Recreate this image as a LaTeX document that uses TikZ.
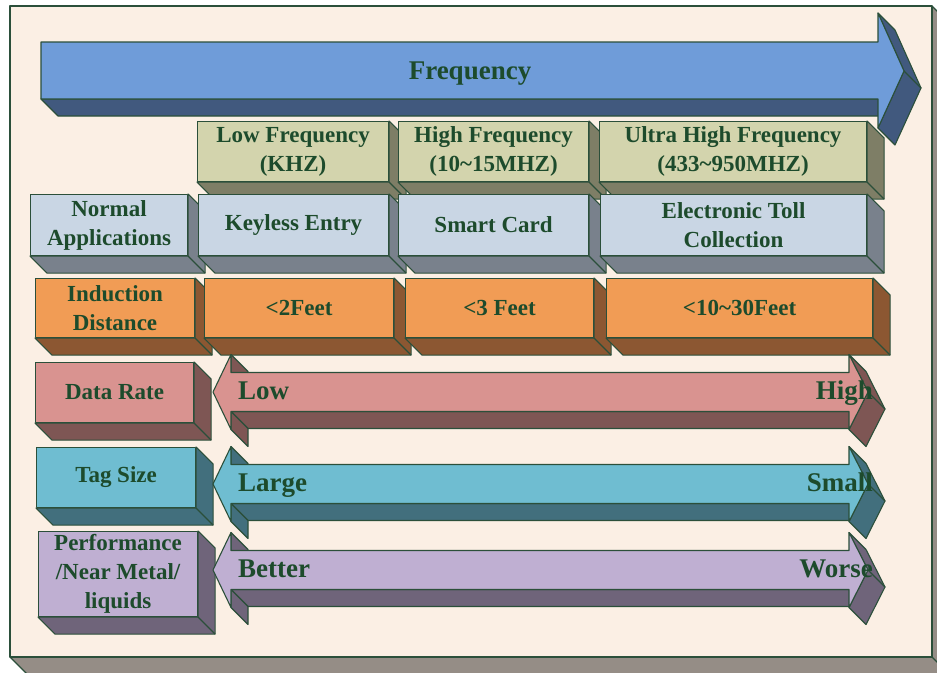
\documentclass[tikz,border=0pt]{standalone}
\usepackage{fontspec}
\setmainfont{Liberation Serif}
\usepackage{xcolor}

\definecolor{ink}{HTML}{1D4B2C}
\definecolor{rim}{HTML}{2B4F3A}
\definecolor{framebg}{HTML}{FBEFE4}
\definecolor{framedk}{HTML}{958D86}
\definecolor{freqf}{HTML}{6F9CD9}
\definecolor{freqd}{HTML}{41597E}
\definecolor{khakif}{HTML}{D3D4AD}
\definecolor{khakid}{HTML}{7E7E66}
\definecolor{greyf}{HTML}{C9D6E4}
\definecolor{greyd}{HTML}{79818C}
\definecolor{orangef}{HTML}{F19C55}
\definecolor{oranged}{HTML}{8C5732}
\definecolor{rosef}{HTML}{D99390}
\definecolor{rosed}{HTML}{7E5654}
\definecolor{tealf}{HTML}{6FBDD1}
\definecolor{teald}{HTML}{426F7D}
\definecolor{lilacf}{HTML}{BFAFD2}
\definecolor{lilacd}{HTML}{6F647A}

% bottom and right faces of a box node
\newcommand{\sidefaces}[2]{%
  \filldraw[edge, fill=#2] (#1.north east) -- ++(17,17) -- ([shift={(17,17)}]#1.south east)
    -- ([shift={(17,17)}]#1.south west) -- (#1.south west) -- (#1.south east) -- cycle;
  \draw[edge] (#1.south east) -- ++(17,17);
}

\begin{document}
\begin{tikzpicture}[x=1pt,y=-1pt,
  edge/.style={draw=rim, line width=1.1pt, line join=round},
  face/.style={edge, rectangle, anchor=north west, inner sep=0pt, align=center,
    text=ink, font=\fontsize{23}{29}\selectfont\bfseries},
  tag/.style={text=ink, inner sep=0pt, font=\fontsize{27}{30}\selectfont\bfseries}]

\useasboundingbox (0,0) rectangle (937,672);
\clip (0,0) rectangle (937,672);

% frame
\filldraw[edge, fill=framedk] (932,6) -- (949,23) -- (949,674) -- (27,674) -- (10,657) -- (932,657) -- cycle;
\draw[edge] (932,657) -- (949,674);
\filldraw[edge, fill=framebg] (10,6) rectangle (932,657);

% frequency arrow
\filldraw[edge, fill=freqd] (41,99) -- (878,99) -- (895,116) -- (58,116) -- cycle;
\filldraw[edge, fill=freqd] (878,13) -- (895,30) -- (921,88) -- (895,145) -- (878,128) -- (904,71) -- cycle;
\draw[edge] (904,71) -- (921,88);
\filldraw[edge, fill=freqf] (41,42) -- (878,42) -- (878,13) -- (904,71) -- (878,128) -- (878,99) -- (41,99) -- cycle;
\node[tag, anchor=base] (freq) at (470,79) {Frequency};

% bands
\node[face, fill=khakif, minimum width=191, minimum height=60] (lowf) at (197,121) {Low Frequency\\(KHZ)};
\sidefaces{lowf}{khakid}
\node[face, fill=khakif, minimum width=190, minimum height=60] (highf) at (398,121) {High Frequency\\(10\textasciitilde15MHZ)};
\sidefaces{highf}{khakid}
\node[face, fill=khakif, minimum width=267, minimum height=60] (uhf) at (599,121) {Ultra High Frequency\\(433\textasciitilde950MHZ)};
\sidefaces{uhf}{khakid}

% applications
\node[face, fill=greyf, minimum width=157, minimum height=61] (apps) at (30,194) {Normal\\Applications};
\sidefaces{apps}{greyd}
\node[face, fill=greyf, minimum width=190, minimum height=61] (keyless) at (198,194) {Keyless Entry};
\sidefaces{keyless}{greyd}
\node[face, fill=greyf, minimum width=190, minimum height=61] (card) at (398,194) {Smart Card};
\sidefaces{card}{greyd}
\node[face, fill=greyf, minimum width=266, minimum height=61] (toll) at (600,194) {Electronic Toll\\Collection};
\sidefaces{toll}{greyd}

% distance
\node[face, fill=orangef, minimum width=159, minimum height=59] (dist) at (35,278) {Induction\\Distance};
\sidefaces{dist}{oranged}
\node[face, fill=orangef, minimum width=189, minimum height=59] (feetlf) at (204,278) {<2Feet};
\sidefaces{feetlf}{oranged}
\node[face, fill=orangef, minimum width=188, minimum height=59] (feethf) at (405,278) {<3 Feet};
\sidefaces{feethf}{oranged}
\node[face, fill=orangef, minimum width=266, minimum height=59] (feetuhf) at (606,278) {<10\textasciitilde30Feet};
\sidefaces{feetuhf}{oranged}

% left column
\node[face, fill=rosef, minimum width=158, minimum height=60] (rate) at (35,362) {Data Rate};
\sidefaces{rate}{rosed}
\node[face, fill=tealf, minimum width=159, minimum height=60] (size) at (36,447) {Tag Size};
\sidefaces{size}{teald}
\node[face, fill=lilacf, minimum width=159, minimum height=85] (perf) at (38,531) {Performance\\/Near Metal/\\liquids};
\sidefaces{perf}{lilacd}

% double arrows
\foreach \yc/\nm/\fc/\sc/\lt/\rt in {392/rate/rosef/rosed/Low/High,
    484/size/tealf/teald/Large/Small, 570/perf/lilacf/lilacd/Better/Worse} {
  \filldraw[edge, fill=\sc] (231,\yc-37.5) -- (248,\yc-20.5) -- (248,\yc-2.5) -- (231,\yc-19.5) -- cycle;
  \filldraw[edge, fill=\sc] (231,\yc+19.5) -- (849,\yc+19.5) -- (866,\yc+36.5) -- (248,\yc+36.5) -- cycle;
  \filldraw[edge, fill=\sc] (231,\yc+19.5) -- (248,\yc+36.5) -- (248,\yc+54.5) -- (231,\yc+37.5) -- cycle;
  \filldraw[edge, fill=\sc] (849,\yc-37.5) -- (866,\yc-20.5) -- (885,\yc+17) -- (866,\yc+54.5) -- (849,\yc+37.5) -- (868,\yc) -- cycle;
  \draw[edge] (868,\yc) -- (885,\yc+17);
  \filldraw[edge, fill=\fc] (213,\yc) -- (231,\yc-37.5) -- (231,\yc-19.5) -- (849,\yc-19.5) -- (849,\yc-37.5)
    -- (868,\yc) -- (849,\yc+37.5) -- (849,\yc+19.5) -- (231,\yc+19.5) -- (231,\yc+37.5) -- cycle;
  \node[tag, anchor=base west] (\nm lo) at (238,\yc+7) {\lt};
  \node[tag, anchor=base east] (\nm hi) at (873,\yc+7) {\rt};
}
\end{tikzpicture}
\end{document}
